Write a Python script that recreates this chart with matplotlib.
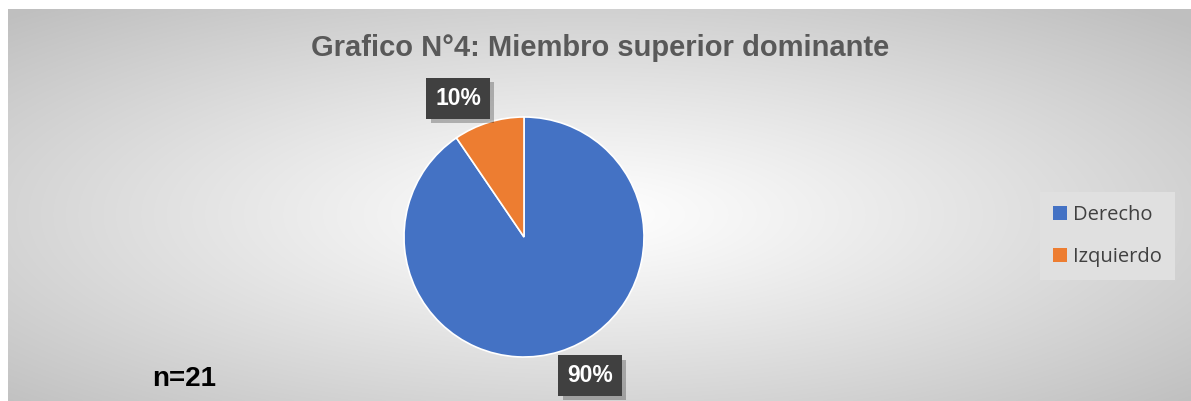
import numpy as np
import matplotlib
matplotlib.use('Agg')
import matplotlib.pyplot as plt
from matplotlib import patheffects

# datos del gráfico
categorias = ['Derecho', 'Izquierdo']
casos = [19, 2]
colores = ['#4472C4', '#ED7D31']
titulo = 'Grafico N°4: Miembro superior dominante'
n_total = 'n=21'

W, H = 1191, 401
fig = plt.figure(figsize=(W / 100, H / 100), dpi=100)
fig.patch.set_facecolor('white')

# fondo con degradado radial (blanco en el centro, gris en los bordes)
ax_bg = fig.add_axes([8 / W, 0, (W - 8) / W, (H - 9) / H])
ax_bg.set_axis_off()
gx = np.linspace(-1, 1, 600)
gy = np.linspace(-1, 1, 200)
X, Y = np.meshgrid(gx, gy)
d = np.sqrt((X + 0.02) ** 2 + (Y - 0.05) ** 2) / np.sqrt(2)
val = 1.0 - 0.25 * np.clip(d, 0, 1) ** 1.1
img = np.dstack([val, val, val])
ax_bg.imshow(img, aspect='auto', extent=[0, 1, 0, 1], interpolation='bilinear')

# torta
cx, cy, r = 524, H - 237, 120
pad = 140
ax = fig.add_axes([(cx - pad) / W, (cy - pad) / H, 2 * pad / W, 2 * pad / H])
ax.set_axis_off()
wedges, textos, autotextos = ax.pie(
    casos, colors=colores, startangle=90, counterclock=False,
    autopct='%.0f%%', pctdistance=1.28,
    wedgeprops=dict(edgecolor='white', linewidth=1.2),
    textprops=dict(color='white', fontsize=16.5, fontweight='bold',
                   family='Liberation Sans'))
ax.set_xlim(-pad / r, pad / r)
ax.set_ylim(-pad / r, pad / r)

# etiquetas de porcentaje en recuadro oscuro, algo giradas respecto al centro de cada sector
for w, t in zip(wedges, autotextos):
    ang = np.deg2rad((w.theta1 + w.theta2) / 2 + 8.3)
    t.set_position((1.28 * np.cos(ang), 1.28 * np.sin(ang)))
    t.set_bbox(dict(boxstyle='square,pad=0.38', facecolor='#404040',
                    edgecolor='none', linewidth=0))
    t.get_bbox_patch().set_path_effects([
        patheffects.SimplePatchShadow(offset=(3, -3), shadow_rgbFace='black',
                                      alpha=0.25),
        patheffects.Normal()])

# título
fig.text(600 / W, 1 - 47.5 / H, titulo, ha='center', va='center',
         fontsize=21, fontweight='bold', color='#595959',
         family='Liberation Sans')

# tamaño de muestra
fig.text(152 / W, 1 - 379 / H, n_total, ha='left', va='center',
         fontsize=20, fontweight='bold', color='black',
         family='Liberation Sans')

# leyenda
leg = fig.legend(wedges, categorias, loc='upper left',
                 bbox_to_anchor=(1040 / W, 1 - 192 / H),
                 borderaxespad=0, frameon=True, fancybox=False,
                 handlelength=0.67, handleheight=0.67, handletextpad=0.3,
                 labelspacing=1.1, borderpad=0.65,
                 prop=dict(family='Open Sans', size=14.5))
leg.get_frame().set_facecolor('#e0e0e0')
leg.get_frame().set_edgecolor('none')
leg.get_frame().set_alpha(1)
for txt in leg.get_texts():
    txt.set_color('#404040')
for h in leg.legend_handles:
    h.set_edgecolor('none')

fig.savefig('out.png', dpi=100)
